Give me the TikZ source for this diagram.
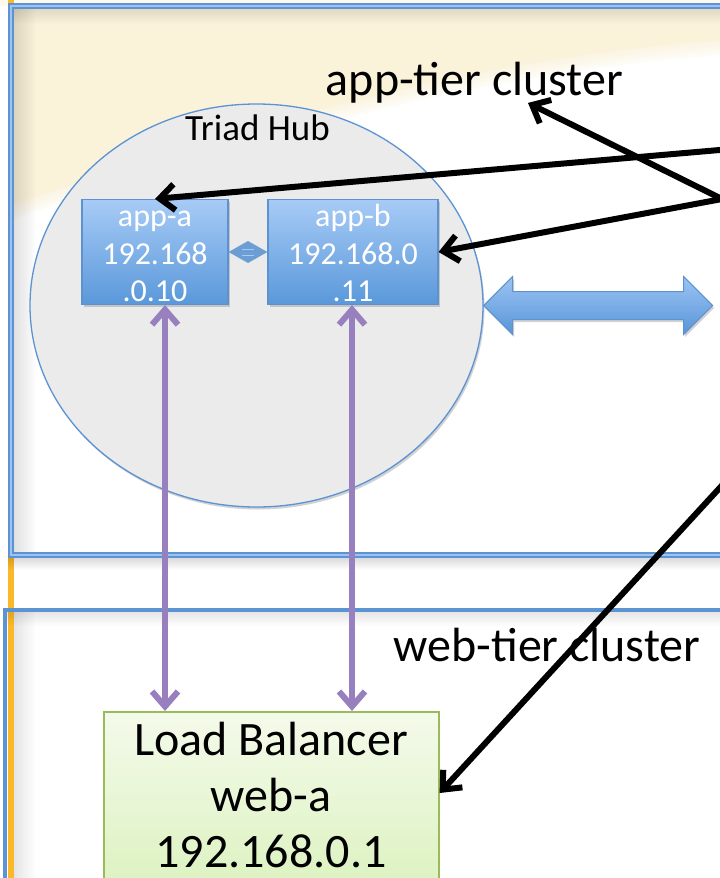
\documentclass[tikz,border=0pt]{standalone}
\usepackage{fontspec}
\setmainfont{Carlito}
\usetikzlibrary{arrows.meta,shadows,calc,fadings,shapes.geometric}

\definecolor{beige}{HTML}{FBF2DA}
\definecolor{frameblue}{HTML}{5B93D3}
\definecolor{framelight}{HTML}{9EC3F0}
\definecolor{railorange}{HTML}{FBB829}
\definecolor{hubgray}{HTML}{EBEBEB}
\definecolor{boxtop}{HTML}{A7CBF6}
\definecolor{boxbot}{HTML}{5A98DA}
\definecolor{boxedge}{HTML}{5C92CF}
\definecolor{linkpurple}{HTML}{9780BD}
\definecolor{lbtop}{HTML}{F4FAEA}
\definecolor{lbbot}{HTML}{DCF2C0}
\definecolor{lbedge}{HTML}{9BBB59}
\definecolor{arrowtop}{HTML}{9CC4F4}
\definecolor{arrowbot}{HTML}{5895D8}

\tikzfading[name=faderight, left color=transparent!0, right color=transparent!100]
\tikzfading[name=fadedown, top color=transparent!0, bottom color=transparent!100]

\tikzset{
  softshadow/.style={drop shadow={shadow xshift=1.5pt, shadow yshift=-2.5pt, opacity=0.25, fill=black!70}},
  appbox/.style={rectangle, draw=boxedge, line width=1.2pt, top color=boxtop, bottom color=boxbot,
    minimum width=146pt, minimum height=105pt, inner sep=0pt, softshadow},
  boxtext/.style={text=white, font=\fontsize{32pt}{37pt}\selectfont, inner sep=0pt, anchor=base},
  bigtext/.style={text=black, font=\fontsize{48pt}{57pt}\selectfont, inner sep=0pt, anchor=base},
  hubstyle/.style={ellipse, draw=frameblue, line width=1.3pt, fill=hubgray, inner sep=0pt,
    minimum width=453pt, minimum height=403pt, softshadow},
  lbstyle/.style={rectangle, draw=lbedge, line width=1.6pt, top color=lbtop, bottom color=lbbot,
    minimum width=335pt, minimum height=180pt, inner sep=0pt, softshadow},
  pointer/.style={line width=6pt, black, line cap=round,
    -{Straight Barb[length=15pt, width=26pt, line width=6pt]}},
  link/.style={line width=6pt, linkpurple,
    {Straight Barb[length=15pt, width=26pt, line width=6pt]}-{Straight Barb[length=15pt, width=26pt, line width=6pt]}}
}

\begin{document}
\begin{tikzpicture}[x=1pt, y=-1pt]
\useasboundingbox (0,0) rectangle (720,878);
\clip (0,0) rectangle (720,878);

% page background
\fill[white] (0,0) rectangle (720,878);
\fill[beige!45] (0,0) rectangle (720,6);

% beige sweep in the upper part of the app tier, with a soft edge
\fill[beige] (11,6) -- (720,6) -- (720,40) .. controls (450,62) and (250,126) .. (11,205) -- cycle;
\foreach \d in {3,6,9,12,15}
  \fill[beige, opacity=0.2] (11,6) -- (720,6) -- (720,40+\d) .. controls (450,62+\d) and (250,126+\d) .. (11,205+\d) -- cycle;

% orange rail on the left
\draw[railorange, line width=6pt] (11,0) -- (11,878);

% inner shadows of the cluster frames
\fill[black, opacity=0.12, path fading=faderight] (14,9) rectangle (36,552);
\fill[black, opacity=0.10, path fading=fadedown] (14,9) rectangle (720,24);
\fill[black, opacity=0.14, path fading=fadedown] (8,558) rectangle (720,570);
\fill[black, opacity=0.10, path fading=faderight] (14,612) rectangle (36,878);
\fill[black, opacity=0.10, path fading=fadedown] (6,612) rectangle (720,626);

% web-tier cluster frame
\draw[frameblue, line width=3.5pt] (5,610) rectangle (760,900);
% app-tier cluster frame
\draw[frameblue, line width=6.5pt] (11,6) rectangle (760,555);
\draw[framelight, line width=2pt] (11,6) rectangle (760,555);

% cluster labels
\node[bigtext] (apptier) at (474.5,95) {app-tier cluster};
\node[bigtext] (webtier) at (547,661) {web-tier cluster};

% Triad Hub
\node[hubstyle] (hub) at (256.5,305.5) {};
\node[text=black, font=\fontsize{37pt}{44pt}\selectfont, inner sep=0pt, anchor=base] (hubname) at (257.5,140) {Triad Hub};

% application servers
\node[appbox] (appa) at (155,252) {};
\node[appbox, minimum width=170pt] (appb) at (353,252) {};
\node[boxtext] (appa1) at (155,226) {app-a};
\node[boxtext] (appa2) at (155,264) {192.168};
\node[boxtext] (appa3) at (155,301) {.0.10};
\node[boxtext] (appb1) at (353,226) {app-b};
\node[boxtext] (appb2) at (353,264) {192.168.0};
\node[boxtext] (appb3) at (353,301) {.11};

% small two-way link between the servers
\fill[boxedge!90] (appa.east) -- ($(appa.east)!0.5!(appb.west)+(0,-11)$) -- (appb.west) -- ($(appa.east)!0.5!(appb.west)+(0,11)$) -- cycle;
\draw[boxtop, line width=1pt] ($(appa.east)!0.5!(appb.west)+(-6,-3)$) -- ($(appa.east)!0.5!(appb.west)+(6,-3)$)
  ($(appa.east)!0.5!(appb.west)+(-6,3)$) -- ($(appa.east)!0.5!(appb.west)+(6,3)$);

% wide two-way arrow from the hub to the right
\shade[top color=arrowtop, bottom color=arrowbot, draw=boxedge, line width=1pt, softshadow]
  (hub.east) -- ++(29,-29) -- ++(0,15) -- ++(171,0) -- ++(0,-15) -- ++(29,29)
  -- ++(-29,29) -- ++(0,-15) -- ++(-171,0) -- ++(0,15) -- cycle;

% load balancer
\node[lbstyle, anchor=north west] (lb) at (103,711) {};
\node[bigtext] (lb1) at (271,755) {Load Balancer};
\node[bigtext] (lb2) at (271,811) {web-a};
\node[bigtext] (lb3) at (271,867) {192.168.0.1};

% purple links between the servers and the load balancer
\coordinate (pa) at ($(appa.south)+(10,0)$);
\coordinate (pb) at ($(appb.south)+(-1,0)$);
\draw[link] (pa) -- (pa |- lb.north);
\draw[link] (pb) -- (pb |- lb.north);

% black pointers coming in from the right
\coordinate (srcA) at (760,146.5);
\coordinate (srcB) at (722,199);
\coordinate (srcC) at (760,444);
\draw[pointer] (srcA) -- (appa.north);
\draw[pointer] (srcB) -- (appb.east);
\draw[pointer] (srcB) -- ([xshift=53.5pt]apptier.south);
\draw[pointer] (srcC) -- ([yshift=-82pt]lb.north east);
\end{tikzpicture}
\end{document}
